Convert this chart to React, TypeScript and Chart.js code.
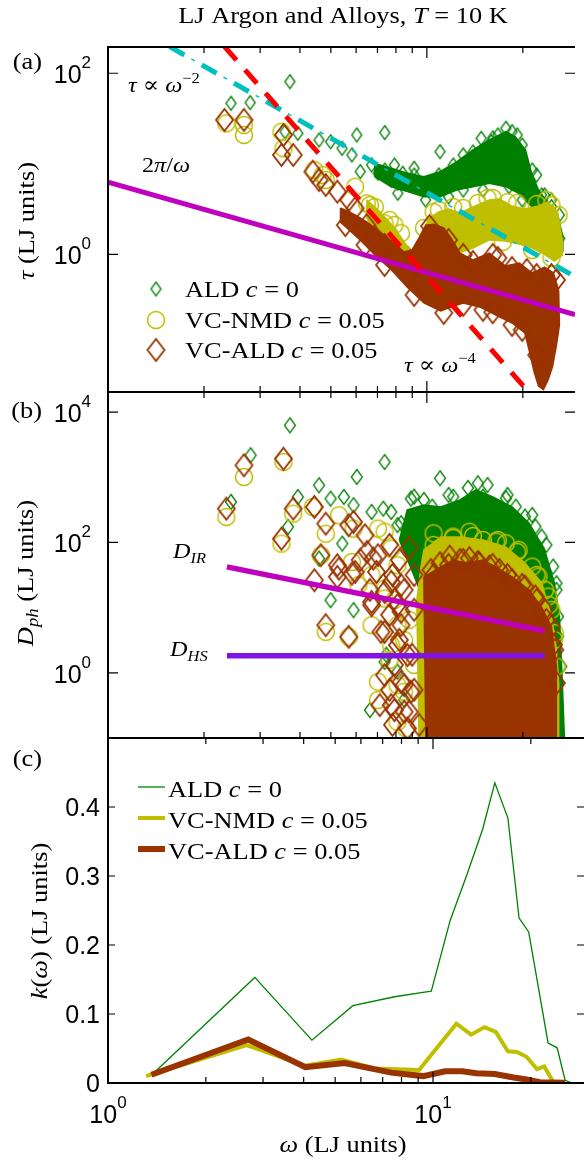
import React, { useEffect, useRef } from 'react';
import { Chart, registerables } from 'chart.js';

Chart.register(...registerables);

const W = 584;
const H = 1167;
const PLOT_LEFT = 108;

// ---------------- axes ----------------
const omegaMin = 1;
const omegaMax = 29.15;
const omegaMajorTicks = [1, 10];
const omegaMinorTicks = [2, 3, 4, 5, 6, 7, 8, 9, 20];
const omegaTickLabels: [number, string, string][] = [[1, '10', '0'], [10, '10', '1']];

const tauMin = 0.0301;
const tauMax = 195;
const tauTickLabels: [number, string, string][] = [[1, '10', '0'], [100, '10', '2']];

const dphMin = 0.1;
const dphMax = 20300;
const dphTickLabels: [number, string, string][] = [[1, '10', '0'], [100, '10', '2'], [10000, '10', '4']];

const kMin = 0;
const kMax = 0.5;
const kTicks = [0, 0.1, 0.2, 0.3, 0.4, 0.5];
const kTickLabels = ['0', '0.1', '0.2', '0.3', '0.4'];

// ---------------- panel (a): tau vs omega ----------------
const aldTauPoints: [number, number][] = [
  [2.43, 46.6], [2.79, 47.3], [3.72, 80.7], [3.59, 22.6], [3.94, 21.7], [4.59, 18.3],
  [4.99, 17.5], [5.42, 14.8], [5.82, 12.5], [6.03, 20.8], [6.18, 8.18], [7.38, 22.1],
  [6.71, 9.7], [7.38, 8.53], [8.11, 6.09], [8.4, 7.85], [7.03, 7.85], [7.73, 6.62],
  [11.0, 13.6], [14.8, 19.1], [17.7, 24.7], [9.12, 8.91], [8.11, 4.72], [9.91, 3.98],
  [13.0, 5.13], [18.1, 5.58], [22.9, 4.52], [24.6, 3.36], [26.1, 1.5], [19.9, 16.1],
  [15.9, 17.5], [8.49, 6.62],
  [7.91, 9.69], [9.12, 7.51], [10.9, 7.51], [13.0, 12.5], [16.1, 19.3], [19.2, 20.8],
  [22.1, 7.51], [24.6, 3.98], [11.7, 4.3], [15.0, 5.13], [19.9, 3.98], [24.95, 2.27],
  [12.1, 9.69], [13.95, 13.5], [16.7, 20.8], [18.5, 22.6], [21.4, 8.53], [23.4, 4.52],
  [26.05, 2.72],
];
const aldTauBandUpper: [number, number][] = [
  [6.87, 10.1], [7.73, 8.91], [8.7, 7.85], [9.79, 7.2], [11.0, 8.18], [12.4, 10.5],
  [13.95, 14.2], [15.7, 18.3], [17.7, 22.6], [18.95, 19.9], [20.4, 14.2], [21.3, 7.85],
  [22.4, 5.13], [24.0, 3.66], [25.8, 2.6], [26.7, 1.57],
];
const aldTauBandLower: [number, number][] = [
  [6.87, 7.2], [7.73, 5.58], [8.7, 4.92], [9.79, 4.33], [11.0, 4.33], [12.4, 5.13],
  [13.95, 5.58], [15.7, 6.09], [17.7, 5.58], [19.4, 4.72], [20.8, 3.66], [22.4, 2.84],
  [24.0, 2.39], [25.8, 2.02], [26.7, 1.21],
];

const nmdTauPoints: [number, number][] = [
  [2.35, 28.0], [2.67, 26.8], [2.67, 20.8], [3.5, 22.6], [3.55, 14.8], [4.44, 8.53],
  [4.71, 7.51], [4.82, 6.62], [5.96, 5.58], [6.48, 3.66], [7.37, 2.2], [7.91, 2.11],
  [6.63, 3.5], [7.64, 1.64], [7.73, 1.44], [8.3, 1.71],
  [10.5, 2.94], [13.0, 3.25], [16.1, 4.19], [19.2, 3.69], [23.7, 3.98], [25.9, 2.72],
  [24.6, 0.91], [21.4, 1.115], [17.3, 1.37], [9.79, 1.96], [7.64, 2.39], [6.87, 3.33],
  [10.9, 3.09], [12.1, 3.33], [14.45, 3.69], [15.5, 4.19], [17.9, 3.78], [22.1, 3.59],
  [24.6, 3.5],
];
const nmdTauBandUpper: [number, number][] = [
  [6.49, 3.98], [7.12, 2.94], [7.91, 1.96], [8.61, 1.27], [9.12, 1.06], [9.65, 1.77],
  [10.2, 2.51], [10.9, 2.94], [11.7, 3.17], [12.7, 2.86], [13.95, 3.33], [15.7, 3.98],
  [16.9, 4.08], [18.5, 3.41], [20.3, 3.17], [22.4, 3.41], [24.0, 3.78], [25.7, 2.94],
  [26.6, 1.44],
];
const nmdTauBandLower: [number, number][] = [
  [6.49, 2.51], [7.12, 1.37], [7.91, 0.91], [9.12, 0.71], [10.5, 0.82], [12.1, 0.98],
  [13.95, 1.17], [15.7, 1.44], [17.6, 1.4], [19.5, 1.3], [21.4, 1.17], [23.4, 1.0],
  [25.1, 0.84], [26.6, 0.98],
];

const vcTauPoints: [number, number][] = [
  [2.32, 30.5], [2.67, 30.5], [3.55, 20.8], [3.5, 12.5], [3.81, 12.5], [4.39, 8.18],
  [4.59, 6.62], [4.82, 5.83], [5.24, 4.92], [5.69, 3.98], [5.96, 3.23], [6.48, 2.1],
  [6.87, 1.565], [7.37, 1.27], [8.09, 0.94], [8.7, 0.617],
  [10.2, 2.05], [11.7, 1.44], [13.95, 0.822], [16.1, 0.982], [18.5, 0.706], [22.1, 0.591],
  [24.6, 0.591], [18.5, 0.166], [15.0, 0.243], [11.3, 0.225], [9.12, 0.355], [7.37, 0.762],
  [6.4, 1.27], [5.55, 2.1],
  [13.0, 0.982], [16.7, 0.91], [20.6, 0.671], [25.5, 0.52], [13.0, 0.276], [16.1, 0.229],
  [19.9, 0.146], [22.1, 0.077],
];
const vcTauBandUpper: [number, number][] = [
  [5.36, 3.25], [5.96, 2.72], [6.49, 2.27], [7.12, 1.77], [7.8, 1.37], [8.49, 1.06],
  [8.99, 1.12], [9.45, 1.52], [9.93, 2.1], [10.5, 2.15], [11.3, 1.96], [11.9, 1.52],
  [12.7, 1.03], [13.95, 0.865], [15.7, 1.03], [17.65, 0.743], [19.5, 0.8], [21.4, 0.62],
  [23.4, 0.72], [24.95, 0.62], [25.9, 0.4],
];
const vcTauBandLower: [number, number][] = [
  [5.36, 2.27], [6.18, 1.44], [6.87, 0.98], [7.75, 0.671], [8.67, 0.435], [9.79, 0.29],
  [11.06, 0.237], [11.9, 0.262], [13.0, 0.29], [14.65, 0.262], [16.95, 0.203], [18.5, 0.174],
  [20.3, 0.135], [21.0, 0.083], [21.7, 0.05], [22.4, 0.035], [23.2, 0.032], [24.0, 0.041],
  [24.8, 0.058], [25.5, 0.0996], [26.05, 0.166],
];

const twoPiOverOmega: [number, number][] = [[1, 6.283], [29.15, 0.2155]];
const tauOmegaMinus2: [number, number][] = [[1.56, 197], [29.15, 0.565]];
const tauOmegaMinus4: [number, number][] = [[2.32, 197], [20.9, 0.0299]];

// ---------------- panel (b): D_ph vs omega ----------------
const aldDphPoints: [number, number][] = [
  [3.72, 6250], [2.8, 2170], [2.43, 418], [3.94, 498], [3.67, 173], [4.59, 752],
  [4.99, 469], [5.49, 498], [6.03, 1010], [7.37, 1710], [5.89, 372], [6.71, 293],
  [7.3, 330], [7.73, 293], [8.91, 469], [8.09, 184], [5.43, 96], [4.59, 56.5],
  [4.99, 13.0], [5.89, 9.14], [7.37, 1.47], [6.63, 0.268], [8.09, 1.04], [11.0, 964],
  [14.45, 807], [9.12, 503], [10.4, 354], [12.1, 503], [17.7, 476], [20.3, 249],
  [8.3, 197], [22.4, 81.5], [24.0, 26.6], [25.8, 3.6], [25.8, 0.695], [7.46, 1.89],
  [8.49, 0.386],
  [9.79, 448], [11.7, 535], [13.45, 685], [15.5, 761], [17.9, 535], [21.4, 264],
  [23.7, 91.7], [25.5, 18.7],
  [15.0, 503], [19.0, 354], [21.9, 175], [22.9, 123], [24.9, 42.6], [25.5, 23.6],
  [25.8, 7.3], [26.4, 1.25],
];
const aldDphOutline: [number, number][] = [
  [8.2, 109], [8.68, 315], [9.79, 375], [11.06, 350], [12.7, 448], [14.25, 638],
  [16.1, 498], [18.5, 350], [20.9, 199], [23.4, 76.8], [25.1, 23.9], [26.05, 7.21],
  [26.6, 0.7], [27.0, 0.1], [9.93, 0.1], [9.79, 13.1],
];

const nmdDphPoints: [number, number][] = [
  [2.67, 1010], [2.35, 246], [3.55, 1710], [3.5, 95.9], [3.81, 276], [4.39, 350],
  [4.82, 136], [4.65, 63.6], [5.3, 261], [5.89, 163], [5.82, 50.2], [4.82, 4.25],
  [5.69, 3.56], [7.03, 163], [7.73, 80.4], [7.03, 0.382], [8.09, 0.648], [8.6, 0.14],
  [6.71, 5.38], [10.5, 138], [13.6, 146], [17.7, 97.2], [21.4, 42.6], [24.0, 14.8],
  [7.37, 146], [6.1, 22.1], [7.37, 19.6], [6.71, 31.4], [8.09, 44.7], [7.73, 2.66],
  [7.91, 13.1], [8.8, 6.49], [7.64, 1.58], [9.12, 1.32], [8.49, 3.2],
  [10.5, 91.7], [12.1, 117], [13.95, 125.5], [16.7, 109], [19.2, 71.6], [22.1, 31.7],
  [24.2, 11.0], [25.1, 3.2],
  [12.1, 123], [15.0, 109], [16.5, 103], [19.4, 76.8], [22.4, 29.9], [23.5, 18.7],
  [24.6, 9.24], [25.2, 4.06], [25.5, 1.25],
  [7.37, 13.8], [8.09, 5.38], [7.03, 0.728], [8.49, 0.512], [8.09, 0.177],
];
const nmdDphOutline: [number, number][] = [
  [9.59, 42.1], [9.79, 76.8], [11.06, 121], [12.7, 121], [15.0, 109], [17.65, 85.2],
  [20.3, 48.5], [22.9, 23.9], [24.6, 7.21], [25.5, 2.25], [25.9, 0.7], [25.9, 0.1],
  [9.45, 0.1], [9.3, 13.1],
];

const vcDphPoints: [number, number][] = [
  [2.67, 1525], [3.55, 1925], [2.35, 330], [3.5, 114], [3.81, 330], [4.44, 350],
  [4.82, 194], [4.65, 63.6], [4.44, 26.3], [5.3, 39.6], [5.24, 29.6], [5.96, 35.3],
  [5.69, 184], [4.82, 5.38], [5.69, 3.56], [6.4, 129], [7.03, 63.6], [6.95, 35.3],
  [6.71, 12.2], [7.37, 4.25], [7.12, 0.32], [7.91, 0.268], [8.49, 0.648], [8.7, 0.14],
  [7.37, 17.4], [8.3, 8.61],
  [7.64, 91.7], [8.2, 53.9], [8.8, 82.4], [9.12, 31.7], [7.8, 31.7], [8.49, 18.7],
  [9.12, 9.24], [7.64, 7.75], [8.2, 3.2], [8.99, 1.89], [7.91, 1.32], [9.12, 0.549],
  [7.64, 0.549], [8.8, 0.253], [9.45, 0.159], [7.8, 0.159], [6.49, 71.6], [6.18, 53.9],
  [6.63, 18.7],
  [10.5, 31.7], [11.7, 45.2], [13.0, 53.9], [14.45, 50.2], [16.1, 45.2], [17.9, 31.7],
  [19.9, 22.3], [22.1, 13.1], [23.7, 6.49], [24.95, 2.68],
  [10.3, 37.9], [11.0, 48.0], [11.8, 60.6], [12.7, 53.9], [13.6, 57.3], [14.6, 48.0],
  [15.7, 42.6], [16.9, 37.9], [18.5, 26.6], [20.3, 21.0], [21.9, 14.8], [23.4, 9.24],
  [24.6, 5.12], [25.2, 2.25], [25.5, 0.695],
  [5.89, 206], [5.24, 44.7], [5.82, 33.2], [6.79, 56.5], [7.73, 24.8], [8.3, 22.1],
  [6.71, 10.9], [8.09, 10.9], [8.3, 5.38], [7.18, 4.25], [8.09, 2.66], [8.7, 1.87],
  [7.37, 0.92], [8.3, 0.728], [8.91, 0.512], [7.73, 0.32], [8.49, 0.253],
];
const vcDphOutline: [number, number][] = [
  [9.79, 29.6], [11.06, 42.1], [12.1, 53.9], [13.3, 48.5], [15.0, 53.9], [16.45, 42.1],
  [18.5, 29.6], [20.9, 18.7], [22.9, 10.2], [24.6, 5.07], [25.5, 1.24], [25.5, 0.1],
  [9.93, 0.1], [9.79, 23.9],
];

const dIRLine: [number, number][] = [[2.36, 42.1], [23.4, 4.4]];
const dHSLine: [number, number][] = [[2.36, 1.82], [23.4, 1.82]];

// ---------------- panel (c): k(omega) ----------------
const kAldOmega = [1.38, 2.83, 4.24, 5.67, 7.62, 9.2, 9.88, 11.3, 12.7, 14.2, 15.5, 17.0, 18.4, 19.7, 22.6, 24.1, 25.5, 26.8];
const kAldValues = [0.014, 0.153, 0.062, 0.112, 0.125, 0.131, 0.133, 0.236, 0.301, 0.367, 0.435, 0.384, 0.239, 0.219, 0.058, 0.051, 0.004, 0.0];
const kNmdOmega = [1.31, 2.67, 4.03, 5.22, 6.6, 9.06, 11.8, 13.1, 14.4, 15.6, 17.0, 18.1, 19.4, 20.9, 22.0, 23.4];
const kNmdValues = [0.01, 0.055, 0.025, 0.034, 0.021, 0.019, 0.086, 0.07, 0.081, 0.074, 0.046, 0.045, 0.038, 0.02, 0.024, 0.002];
const kVcOmega = [1.36, 2.7, 4.05, 5.35, 7.44, 9.33, 10.9, 12.3, 13.6, 15.5, 17.7, 19.4, 21.3, 25.5];
const kVcValues = [0.012, 0.063, 0.023, 0.029, 0.015, 0.01, 0.017, 0.017, 0.014, 0.013, 0.008, 0.005, 0.001, 0.0005];

// ---------------- styles ----------------
const C_ALD = '#008000';
const C_NMD = '#BFBF00';
const C_VC = '#993300';
const C_MAG = '#BF00BF';
const C_CYAN = '#00BFBF';
const C_RED = '#FF0000';
const C_HS = '#8014E6';

const SERIF = "'Liberation Serif', 'DejaVu Serif', serif";
const SANS = "'Liberation Sans', Arial, sans-serif";
const rm = (px: number) => `${px}px ${SERIF}`;
const it = (px: number) => `italic ${px}px ${SERIF}`;
const SX = 1.1;

type Seg = [string, string, number?];

function drawRich(ctx: CanvasRenderingContext2D, segs: Seg[], x: number, y: number, align: 'left' | 'center' | 'right' = 'left', sx = 1) {
  ctx.save();
  ctx.textAlign = 'left';
  ctx.textBaseline = 'alphabetic';
  ctx.fillStyle = '#000';
  const widths = segs.map(([t, f]) => { ctx.font = f; return ctx.measureText(t).width; });
  const total = widths.reduce((a, b) => a + b, 0) * sx;
  const x0 = align === 'left' ? x : align === 'center' ? x - total / 2 : x - total;
  ctx.translate(x0, y);
  ctx.scale(sx, 1);
  let cx = 0;
  segs.forEach(([t, f, dy], i) => { ctx.font = f; ctx.fillText(t, cx, dy || 0); cx += widths[i]; });
  ctx.restore();
}

function drawRotated(ctx: CanvasRenderingContext2D, segs: Seg[], bx: number, cy: number) {
  ctx.save();
  ctx.translate(bx, cy);
  ctx.rotate(-Math.PI / 2);
  drawRich(ctx, segs, 0, 0, 'center', SX);
  ctx.restore();
}

function powLabel(base: string, exp: string): Seg[] {
  return [[base, `25px ${SANS}`], [exp, `17px ${SANS}`, -15]];
}

function diamondImg(w: number, h: number, color: string, lw: number) {
  const c = document.createElement('canvas');
  c.width = Math.ceil(w + lw * 2 + 2);
  c.height = Math.ceil(h + lw * 2 + 2);
  const g = c.getContext('2d')!;
  const cx = c.width / 2, cy = c.height / 2;
  g.beginPath();
  g.moveTo(cx, cy - h / 2);
  g.lineTo(cx + w / 2, cy);
  g.lineTo(cx, cy + h / 2);
  g.lineTo(cx - w / 2, cy);
  g.closePath();
  g.strokeStyle = color;
  g.lineWidth = lw;
  g.stroke();
  return c;
}

function circleImg(r: number, color: string, lw: number) {
  const c = document.createElement('canvas');
  c.width = Math.ceil(2 * r + lw * 2 + 2);
  c.height = c.width;
  const g = c.getContext('2d')!;
  g.beginPath();
  g.arc(c.width / 2, c.height / 2, r, 0, Math.PI * 2);
  g.strokeStyle = color;
  g.lineWidth = lw;
  g.stroke();
  return c;
}

const toXY = (arr: [number, number][]) => arr.map(([x, y]) => ({ x, y }));
const zipXY = (xs: number[], ys: number[]) => xs.map((x, i) => ({ x, y: ys[i] }));
const band = (upper: [number, number][], lower: [number, number][]) => {
  const poly = [...upper, ...[...lower].reverse()];
  return toXY([...poly, poly[0]]);
};
const ring = (poly: [number, number][]) => toXY([...poly, poly[0]]);

function markerSet(data: { x: number; y: number }[], img: HTMLCanvasElement, order: number) {
  return { type: 'scatter', data, pointStyle: img, pointRadius: 8, showLine: false, order, clip: 0 };
}
function fillSet(data: { x: number; y: number }[], color: string, order: number) {
  return { type: 'line', data, borderColor: color, backgroundColor: color, borderWidth: 1.5, pointRadius: 0, fill: 'shape', tension: 0, order, clip: 0 };
}
function lineSet(data: { x: number; y: number }[], color: string, width: number, order: number, dash: number[] = [], dashOffset = 0) {
  return {
    type: 'line', data, borderColor: color, borderWidth: width, borderDash: dash, borderDashOffset: dashOffset,
    borderCapStyle: 'butt', pointRadius: 0, fill: false, tension: 0, order, clip: 0,
  };
}

function baseOptions(yType: string, yMin: number, yMax: number, top: number, bottom: number) {
  return {
    responsive: false,
    animation: false,
    devicePixelRatio: 1,
    events: [],
    layout: { padding: { left: PLOT_LEFT, right: 0, top, bottom: H - bottom } },
    plugins: { legend: { display: false }, tooltip: { enabled: false }, title: { display: false } },
    scales: {
      x: { type: 'logarithmic', min: omegaMin, max: omegaMax, display: false },
      y: { type: yType, min: yMin, max: yMax, display: false },
    },
  };
}

function drawFrame(chart: any, yTicks: number[], yLen: number) {
  const { ctx, chartArea: a } = chart;
  const xs = chart.scales.x, ys = chart.scales.y;
  ctx.save();
  ctx.strokeStyle = '#000';
  ctx.lineWidth = 1.2;
  ctx.beginPath();
  const xt = (v: number, len: number) => {
    const p = xs.getPixelForValue(v);
    ctx.moveTo(p, a.bottom); ctx.lineTo(p, a.bottom - len);
    ctx.moveTo(p, a.top); ctx.lineTo(p, a.top + len);
  };
  omegaMajorTicks.forEach((v) => xt(v, 11));
  omegaMinorTicks.forEach((v) => xt(v, 6));
  yTicks.forEach((v) => {
    const p = ys.getPixelForValue(v);
    ctx.moveTo(a.left, p); ctx.lineTo(a.left + yLen, p);
    ctx.moveTo(a.right, p); ctx.lineTo(a.right - yLen, p);
  });
  ctx.stroke();
  ctx.lineWidth = 2;
  ctx.beginPath();
  ctx.moveTo(a.right, a.top); ctx.lineTo(a.left, a.top); ctx.lineTo(a.left, a.bottom); ctx.lineTo(a.right, a.bottom);
  ctx.stroke();
  ctx.restore();
}

function makePanelA(canvas: HTMLCanvasElement) {
  const gD = diamondImg(10, 14, C_ALD, 1.3);
  const yC = circleImg(8.5, C_NMD, 1.5);
  const bD = diamondImg(17, 22, C_VC, 1.8);
  const decor = {
    id: 'decorA',
    afterDraw(chart: any) {
      const ctx = chart.ctx;
      const ys = chart.scales.y;
      drawFrame(chart, tauTickLabels.map((t) => t[0]), 10);
      tauTickLabels.forEach(([v, b, e]) => drawRich(ctx, powLabel(b, e), 91, ys.getPixelForValue(v) + 10, 'right'));
      drawRich(ctx, [['LJ Argon and Alloys, ', rm(24)], ['T', it(24)], [' = 10 K', rm(24)]], 343, 23, 'center', SX);
      drawRich(ctx, [['(a)', rm(24)]], 42, 69, 'right', SX);
      drawRotated(ctx, [['τ', it(24)], [' (LJ units)', rm(24)]], 34, 221);
      drawRich(ctx, [['τ', it(22)], [' ∝ ', rm(22)], ['ω', it(22)], ['−2', rm(15), -9]], 128, 92, 'left', SX);
      drawRich(ctx, [['2', rm(22)], ['π', it(22)], ['/', rm(22)], ['ω', it(22)]], 142, 172, 'left', SX);
      drawRich(ctx, [['τ', it(22)], [' ∝ ', rm(22)], ['ω', it(22)], ['−4', rm(15), -9]], 404, 372, 'left', SX);
      const rows: [HTMLCanvasElement, string, string, number][] = [
        [gD, 'ALD ', ' = 0', 289],
        [yC, 'VC-NMD ', ' = 0.05', 320],
        [bD, 'VC-ALD ', ' = 0.05', 350],
      ];
      rows.forEach(([img, a, b, y]) => {
        ctx.drawImage(img, 156 - img.width / 2, y - img.height / 2);
        drawRich(ctx, [[a, rm(24)], ['c', it(24)], [b, rm(24)]], 185, y + 8, 'left', SX);
      });
    },
  };
  return new Chart(canvas, {
    type: 'scatter',
    data: {
      datasets: [
        fillSet(band(aldTauBandUpper, aldTauBandLower), C_ALD, 20),
        markerSet(toXY(aldTauPoints), gD, 19),
        fillSet(band(nmdTauBandUpper, nmdTauBandLower), C_NMD, 18),
        markerSet(toXY(nmdTauPoints), yC, 17),
        fillSet(band(vcTauBandUpper, vcTauBandLower), C_VC, 16),
        markerSet(toXY(vcTauPoints), bD, 15),
        lineSet(toXY(twoPiOverOmega), C_MAG, 5, 4),
        lineSet(toXY(tauOmegaMinus2), C_CYAN, 5, 3, [17, 20]),
        lineSet(toXY(tauOmegaMinus2), C_CYAN, 1.5, 3, [4, 33], 12),
        lineSet(toXY(tauOmegaMinus4), C_RED, 5, 2, [18, 13]),
      ] as any,
    },
    options: baseOptions('logarithmic', tauMin, tauMax, 47, 392) as any,
    plugins: [decor],
  });
}

function makePanelB(canvas: HTMLCanvasElement) {
  const gD = diamondImg(11, 15, C_ALD, 1.3);
  const yC = circleImg(8.5, C_NMD, 1.5);
  const bD = diamondImg(17, 22, C_VC, 1.8);
  const decor = {
    id: 'decorB',
    afterDraw(chart: any) {
      const ctx = chart.ctx;
      const ys = chart.scales.y;
      drawFrame(chart, dphTickLabels.map((t) => t[0]), 10);
      dphTickLabels.forEach(([v, b, e]) => drawRich(ctx, powLabel(b, e), 91, ys.getPixelForValue(v) + 10, 'right'));
      drawRich(ctx, [['(b)', rm(24)]], 42, 418, 'right', SX);
      drawRotated(ctx, [['D', it(24)], ['ph', it(17), 5], [' (LJ units)', rm(24)]], 33, 573);
      drawRich(ctx, [['D', it(22)], ['IR', it(15), 5]], 173, 558, 'left', SX);
      drawRich(ctx, [['D', it(22)], ['HS', it(15), 5]], 170, 656, 'left', SX);
    },
  };
  return new Chart(canvas, {
    type: 'scatter',
    data: {
      datasets: [
        fillSet(ring(aldDphOutline), C_ALD, 20),
        markerSet(toXY(aldDphPoints), gD, 19),
        fillSet(ring(nmdDphOutline), C_NMD, 18),
        markerSet(toXY(nmdDphPoints), yC, 17),
        fillSet(ring(vcDphOutline), C_VC, 16),
        markerSet(toXY(vcDphPoints), bD, 15),
        lineSet(toXY(dIRLine), C_MAG, 5.5, 2),
        lineSet(toXY(dHSLine), C_HS, 5.5, 1),
      ] as any,
    },
    options: baseOptions('logarithmic', dphMin, dphMax, 392, 738) as any,
    plugins: [decor],
  });
}

function makePanelC(canvas: HTMLCanvasElement) {
  const decor = {
    id: 'decorC',
    afterDraw(chart: any) {
      const ctx = chart.ctx;
      const ys = chart.scales.y;
      const xs = chart.scales.x;
      drawFrame(chart, kTicks, 7);
      kTickLabels.forEach((t, i) => drawRich(ctx, [[t, `25px ${SANS}`]], 100, ys.getPixelForValue(kTicks[i]) + 9, 'right'));
      omegaTickLabels.forEach(([v, b, e]) => drawRich(ctx, powLabel(b, e), xs.getPixelForValue(v), 1123, 'center'));
      drawRich(ctx, [['(c)', rm(24)]], 42, 766, 'right', SX);
      drawRotated(ctx, [['k', it(24)], ['(', rm(24)], ['ω', it(24)], [') (LJ units)', rm(24)]], 47, 921);
      drawRich(ctx, [['ω', it(24)], [' (LJ units)', rm(24)]], 343, 1152, 'center', SX);
      const rows: [string, number, string, number][] = [
        [C_ALD, 1.3, 'ALD ', 787],
        [C_NMD, 4, 'VC-NMD ', 818],
        [C_VC, 6, 'VC-ALD ', 849],
      ];
      rows.forEach(([col, w, label, y], i) => {
        ctx.save();
        ctx.strokeStyle = col;
        ctx.lineWidth = w;
        ctx.beginPath();
        ctx.moveTo(138, y);
        ctx.lineTo(165, y);
        ctx.stroke();
        ctx.restore();
        drawRich(ctx, [[label, rm(24)], ['c', it(24)], [i === 0 ? ' = 0' : ' = 0.05', rm(24)]], 168, y + 10, 'left', SX);
      });
    },
  };
  return new Chart(canvas, {
    type: 'scatter',
    data: {
      datasets: [
        lineSet(zipXY(kAldOmega, kAldValues), C_ALD, 1.3, 3),
        lineSet(zipXY(kNmdOmega, kNmdValues), C_NMD, 4, 2),
        lineSet(zipXY(kVcOmega, kVcValues), C_VC, 6, 1),
      ] as any,
    },
    options: baseOptions('linear', kMin, kMax, 738, 1083) as any,
    plugins: [decor],
  });
}

export default function App() {
  const refA = useRef<HTMLCanvasElement>(null);
  const refB = useRef<HTMLCanvasElement>(null);
  const refC = useRef<HTMLCanvasElement>(null);
  useEffect(() => {
    const charts = [makePanelA(refA.current!), makePanelB(refB.current!), makePanelC(refC.current!)];
    return () => charts.forEach((c) => c.destroy());
  }, []);
  const cs: React.CSSProperties = { position: 'absolute', left: 0, top: 0, width: W, height: H };
  return (
    <div style={{ position: 'absolute', left: 0, top: 0, width: W, height: H, background: '#fff', overflow: 'hidden' }}>
      <canvas ref={refA} width={W} height={H} style={cs} />
      <canvas ref={refB} width={W} height={H} style={cs} />
      <canvas ref={refC} width={W} height={H} style={cs} />
    </div>
  );
}
